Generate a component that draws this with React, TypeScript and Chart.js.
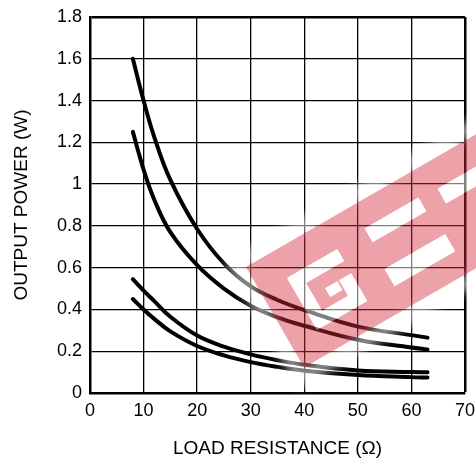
import React, { useEffect, useRef } from "react";
import { Chart, registerables } from "chart.js";

Chart.register(...registerables);

// Load resistance (Ω) sample points
const resistance = [8, 10, 12, 15, 20, 25, 30, 35, 40, 50, 60, 63];
// Output power (W) for the four curves, top to bottom
const powerA = [1.6, 1.4, 1.225, 1.02, 0.785, 0.62, 0.51, 0.445, 0.397, 0.318, 0.277, 0.265];
const powerB = [1.25, 1.07, 0.925, 0.77, 0.612, 0.5, 0.418, 0.362, 0.322, 0.255, 0.218, 0.208];
const powerC = [0.545, 0.49, 0.44, 0.365, 0.275, 0.222, 0.185, 0.157, 0.135, 0.108, 0.1, 0.099];
const powerD = [0.45, 0.4, 0.355, 0.295, 0.225, 0.18, 0.148, 0.125, 0.107, 0.086, 0.076, 0.074];
const seriesNames = ["A", "B", "C", "D"];

const xTicks = [0, 10, 20, 30, 40, 50, 60, 70];
const xTickLabels = ["0", "10", "20", "30", "40", "50", "60", "70"];
const yTicks = [0, 0.2, 0.4, 0.6, 0.8, 1.0, 1.2, 1.4, 1.6, 1.8];
const yTickLabels = ["0", "0.2", "0.4", "0.6", "0.8", "1", "1.2", "1.4", "1.6", "1.8"];

const xTitle = "LOAD RESISTANCE (Ω)";
const yTitle = "OUTPUT POWER (W)";

const FAMILY = "'Liberation Sans', Arial, Helvetica, sans-serif";

const watermark = {
  id: "watermark",
  afterDraw(chart: any) {
    const ctx: CanvasRenderingContext2D = chart.ctx;
    const W = 360;
    const H = 116;
    const shapes: number[][] = [
      [30, 30, 58, 14],
      [30, 44, 14, 46],
      [44, 76, 44, 14],
      [74, 58, 14, 18],
      [58, 58, 14, 10],
      [122, 26, 62, 16],
      [119, 71, 70, 20],
      [205, 28, 60, 17],
    ];
    ctx.save();
    ctx.translate(246, 267);
    ctx.rotate(-Math.PI / 6);
    ctx.save();
    ctx.filter = "blur(5px)";
    ctx.beginPath();
    ctx.rect(-16, -16, W + 32, H + 32);
    ctx.rect(0, 0, W, H);
    ctx.fillStyle = "rgba(255,255,255,0.55)";
    ctx.fill("evenodd");
    ctx.restore();
    ctx.beginPath();
    ctx.rect(0, 0, W, H);
    shapes.forEach((s) => ctx.rect(s[0], s[1], s[2], s[3]));
    ctx.fillStyle = "rgba(214,40,57,0.44)";
    ctx.fill("evenodd");
    ctx.fillStyle = "rgba(255,255,255,0.5)";
    shapes.forEach((s) => ctx.fillRect(s[0], s[1], s[2], s[3]));
    ctx.restore();
  },
};

export default function App() {
  const ref = useRef<HTMLCanvasElement>(null);

  useEffect(() => {
    const mk = (vals: number[]) => resistance.map((x, i) => ({ x, y: vals[i] }));
    const datasets = [powerA, powerB, powerC, powerD].map((v, i) => ({
      label: seriesNames[i],
      data: mk(v),
      borderColor: "#000",
      borderWidth: 4,
      pointRadius: 0,
      fill: false,
      tension: 0.4,
      borderCapStyle: "round" as const,
    }));
    const tickFont = { family: FAMILY, size: 18 };
    const titleFont = { family: FAMILY, size: 19 };

    const chart = new Chart(ref.current!, {
      type: "line",
      data: { datasets },
      options: {
        responsive: false,
        animation: false,
        layout: { padding: { top: 17, right: 11, left: 0, bottom: 0 } },
        plugins: { legend: { display: false }, tooltip: { enabled: false } },
        scales: {
          x: {
            type: "linear",
            min: 0,
            max: 70,
            afterFit: (s: any) => {
              s.height = 68;
              s.paddingLeft = 0;
              s.paddingRight = 0;
            },
            afterBuildTicks: (s: any) => {
              s.ticks = xTicks.map((v) => ({ value: v }));
            },
            ticks: {
              color: "#000",
              font: tickFont,
              padding: 7,
              callback: (_v: any, i: number) => xTickLabels[i],
            },
            grid: {
              color: "#000",
              lineWidth: (c: any) => (c.tick && c.tick.value === 70 ? 2.5 : 1.3),
              drawTicks: false,
            },
            border: { color: "#000", width: 2.5 },
            title: {
              display: true,
              text: xTitle,
              color: "#000",
              font: titleFont,
              padding: { top: 0, bottom: 1 },
            },
          },
          y: {
            type: "linear",
            min: 0,
            max: 1.8,
            afterFit: (s: any) => {
              s.width = 90;
              s.paddingTop = 0;
              s.paddingBottom = 0;
            },
            afterBuildTicks: (s: any) => {
              s.ticks = yTicks.map((v) => ({ value: v }));
            },
            ticks: {
              color: "#000",
              font: tickFont,
              padding: 8,
              callback: (_v: any, i: number) => yTickLabels[i],
            },
            grid: {
              color: "#000",
              lineWidth: (c: any) => (c.tick && Math.abs(c.tick.value - 1.8) < 1e-6 ? 2.5 : 1.3),
              drawTicks: false,
            },
            border: { color: "#000", width: 2.5 },
            title: {
              display: true,
              text: yTitle,
              color: "#000",
              font: titleFont,
              padding: { top: 10, bottom: 0 },
            },
          },
        },
      },
      plugins: [watermark],
    });
    return () => chart.destroy();
  }, []);

  return (
    <div style={{ position: "fixed", left: 0, top: 0, width: 476, height: 461, background: "#fff" }}>
      <canvas ref={ref} width={476} height={461} style={{ width: 476, height: 461, display: "block" }} />
    </div>
  );
}
